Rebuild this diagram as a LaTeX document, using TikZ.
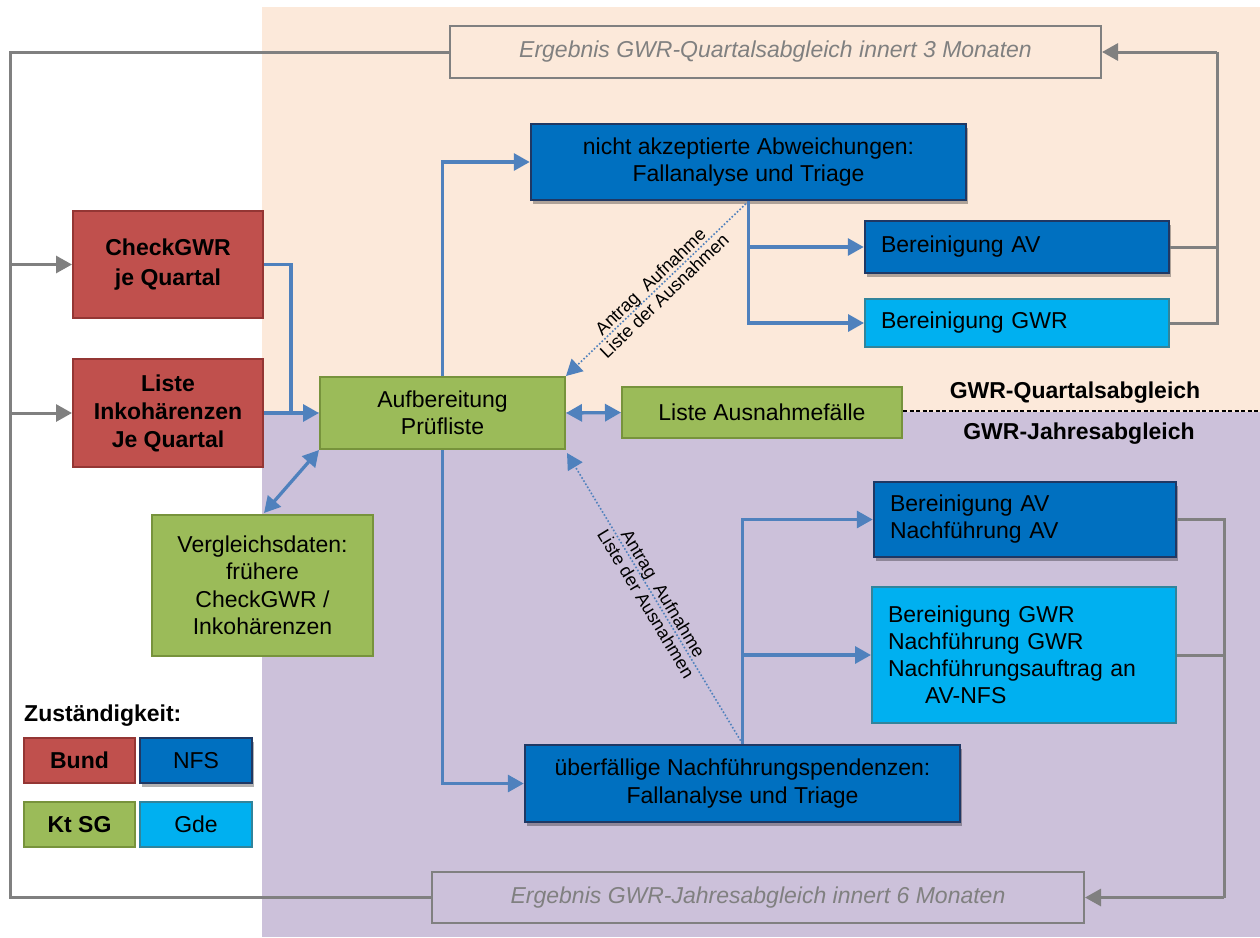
\documentclass[tikz,border=0pt]{standalone}
\usepackage{fontspec}
\setmainfont{Liberation Sans}
\usetikzlibrary{arrows.meta,shadows,calc}
\definecolor{redf}{HTML}{C0504D}
\definecolor{redb}{HTML}{943634}
\definecolor{bluef}{HTML}{0070C0}
\definecolor{blueb}{HTML}{1F3864}
\definecolor{lbluef}{HTML}{00B0F0}
\definecolor{lblueb}{HTML}{31849B}
\definecolor{greenf}{HTML}{9BBB59}
\definecolor{greenb}{HTML}{77933C}
\definecolor{peach}{HTML}{FCE9DA}
\definecolor{lav}{HTML}{CCC1DA}
\definecolor{conblue}{HTML}{4F81BD}
\definecolor{congray}{HTML}{808080}
\newcommand\bxf{\fontsize{23}{27.5}\selectfont}
\newcommand\bxb{\fontsize{23}{30}\selectfont\bfseries}
\newcommand\lblf{\fontsize{18}{20}\selectfont}
\tikzset{
  sz/.style 2 args={minimum width=#1pt, minimum height=#2pt},
  basebox/.style={inner sep=0pt, align=center, font=\bxf},
  redbox/.style={basebox, draw=redb, fill=redf, line width=2pt, font=\bxb},
  greenbox/.style={basebox, draw=greenb, fill=greenf, line width=2pt},
  nfsbox/.style={basebox, draw=blueb, fill=bluef, line width=2.5pt,
     drop shadow={shadow xshift=2pt, shadow yshift=-4pt, opacity=0.3, fill=black}},
  gdebox/.style={basebox, draw=lblueb, fill=lbluef, line width=2pt},
  resbox/.style={basebox, draw=congray, line width=2pt, text=congray, font=\bxf\itshape},
  leftbox/.style={inner xsep=16pt, inner ysep=0pt, align=left, text width=#1pt},
  tip/.tip={Triangle[length=16pt,width=17pt]},
  bl/.style={draw=conblue, line width=3.3pt},
  bla/.style={bl, -tip},
  blaa/.style={bl, tip-tip},
  gl/.style={draw=congray, line width=3pt},
  gla/.style={gl, -tip},
  dotl/.style={draw=conblue, line width=1.6pt, dash pattern=on 1.6pt off 2pt, -tip},
  lbl/.style={font=\lblf, align=center, inner sep=1pt},
  phase/.style={font=\bxf\bfseries, inner sep=0pt}
}
\begin{document}
\begin{tikzpicture}[x=1pt,y=-1pt]
\useasboundingbox (0,0) rectangle (1260,937);
\fill[peach] (262,7) rectangle (1260,412);
\fill[lav] (262,412) rectangle (1260,937);

% result boxes
\node[resbox, sz={651}{52}] (eq) at (775.5,52) {Ergebnis GWR-Quartalsabgleich innert 3 Monaten};
\node[resbox, sz={652}{51}] (ej) at (758,897.5) {Ergebnis GWR-Jahresabgleich innert 6 Monaten};

% left boxes
\node[redbox, sz={190}{107}] (check) at (168,264.5) {CheckGWR\\je Quartal};
\node[redbox, sz={190}{108}, font=\fontsize{23}{28}\selectfont\bfseries] (liste) at (168,413) {Liste\\Inkohärenzen\\Je Quartal};
\node[greenbox, sz={245}{72}] (aufb) at (442.5,413) {Aufbereitung\\Prüfliste};
\node[greenbox, sz={280}{51}] (lausn) at (762,412.5) {Liste Ausnahmefälle};
\node[greenbox, sz={221}{141}] (vergl) at (262.5,585.5) {Vergleichsdaten:\\frühere\\CheckGWR /\\Inkohärenzen};

% quarterly
\node[nfsbox, sz={435}{76}] (nak) at (748.5,162) {nicht akzeptierte Abweichungen:\\Fallanalyse und Triage};
\node[nfsbox, leftbox=272, minimum height=52pt, font=\bxf] (bav) at (1017,247) {Bereinigung AV};
\node[gdebox, leftbox=272, minimum height=48pt, font=\bxf] (bgwr) at (1017,323) {Bereinigung GWR};

% yearly
\node[nfsbox, sz={435}{77}] (ueb) at (742.5,783.5) {überfällige Nachführungspendenzen:\\Fallanalyse und Triage};
\node[nfsbox, leftbox=270, minimum height=75pt, font=\fontsize{23}{27}\selectfont] (bavnav) at (1025,519.5) {Bereinigung AV\\Nachführung AV};
\node[gdebox, leftbox=272, minimum height=136pt, font=\fontsize{23}{27}\selectfont] (gwr2) at (1024,655) {Bereinigung GWR\\Nachführung GWR\\Nachführungsauftrag an\\\hspace*{37pt}AV-NFS};

% phase labels
\node[phase] (pq) at (1075,393) {GWR-Quartalsabgleich};
\node[phase] (pj) at (1079,434) {GWR-Jahresabgleich};
\coordinate (dr) at (1260,411);
\draw[line width=1.5pt, dash pattern=on 4pt off 2.5pt] (lausn.east |- dr) -- (dr);

% legend
\node[font=\bxf\bfseries, anchor=west, inner sep=0pt] (zt) at (24,716) {Zuständigkeit:};
\node[redbox, sz={111}{45}] (bund) at (79.5,760.5) {Bund};
\node[nfsbox, sz={112}{45}] (nfs) at (196,760.5) {NFS};
\node[greenbox, sz={111}{45}, font=\bxb] (ktsg) at (79.5,824.5) {Kt SG};
\node[gdebox, sz={112}{45}] (gde) at (196,824.5) {Gde};

% blue connectors
\coordinate (j1) at (291,413);
\draw[bl] (check.east) -| (j1);
\draw[bla] (liste.east) -- (aufb.west);
\draw[bla] (aufb.north) |- (nak.west);
\draw[bla] (aufb.south) |- (ueb.west);
\draw[blaa] (aufb.east) -- (lausn.west);
\draw[blaa] ($(vergl.north)+(1.5,-1)$) -- (aufb.south west);
\coordinate (nq) at (nak.south);
\draw[bla] (nq) |- (bav.west);
\draw[bla] (nq) |- (bgwr.west);
\coordinate (uq) at (ueb.north);
\draw[bla] (uq) |- (bavnav.west);
\draw[bla] (uq) |- (gwr2.west);

% dotted requests
\draw[dotl] (nq) -- (aufb.north east) node[midway, sloped, lbl] (lq) {Antrag\ \ Aufnahme\\Liste der Ausnahmen};
\draw[dotl] (uq) -- ($(aufb.south east)+(1,3)$) node[midway, sloped, lbl] (lj) {Antrag\ \ Aufnahme\\Liste der Ausnahmen};

% gray connectors
\coordinate (rq) at (1217,52);
\draw[gl] (bav.east) -| (rq);
\draw[gl] (bgwr.east) -| (rq);
\draw[gla] (rq) -- (eq.east);
\coordinate (rj) at (1224,897.5);
\draw[gl] (bavnav.east) -| (rj);
\draw[gl] (gwr2.east) -| (rj);
\draw[gla] (rj) -- (ej.east);
\coordinate (lt) at (10,52);
\coordinate (lb) at (10,897.5);
\draw[gl] (eq.west) -- (lt) -- (lb) -- (ej.west);
\coordinate (la) at (lt |- check.west);
\coordinate (lc) at (lt |- liste.west);
\draw[gla] (la) -- (check.west);
\draw[gla] (lc) -- (liste.west);
\end{tikzpicture}
\end{document}
